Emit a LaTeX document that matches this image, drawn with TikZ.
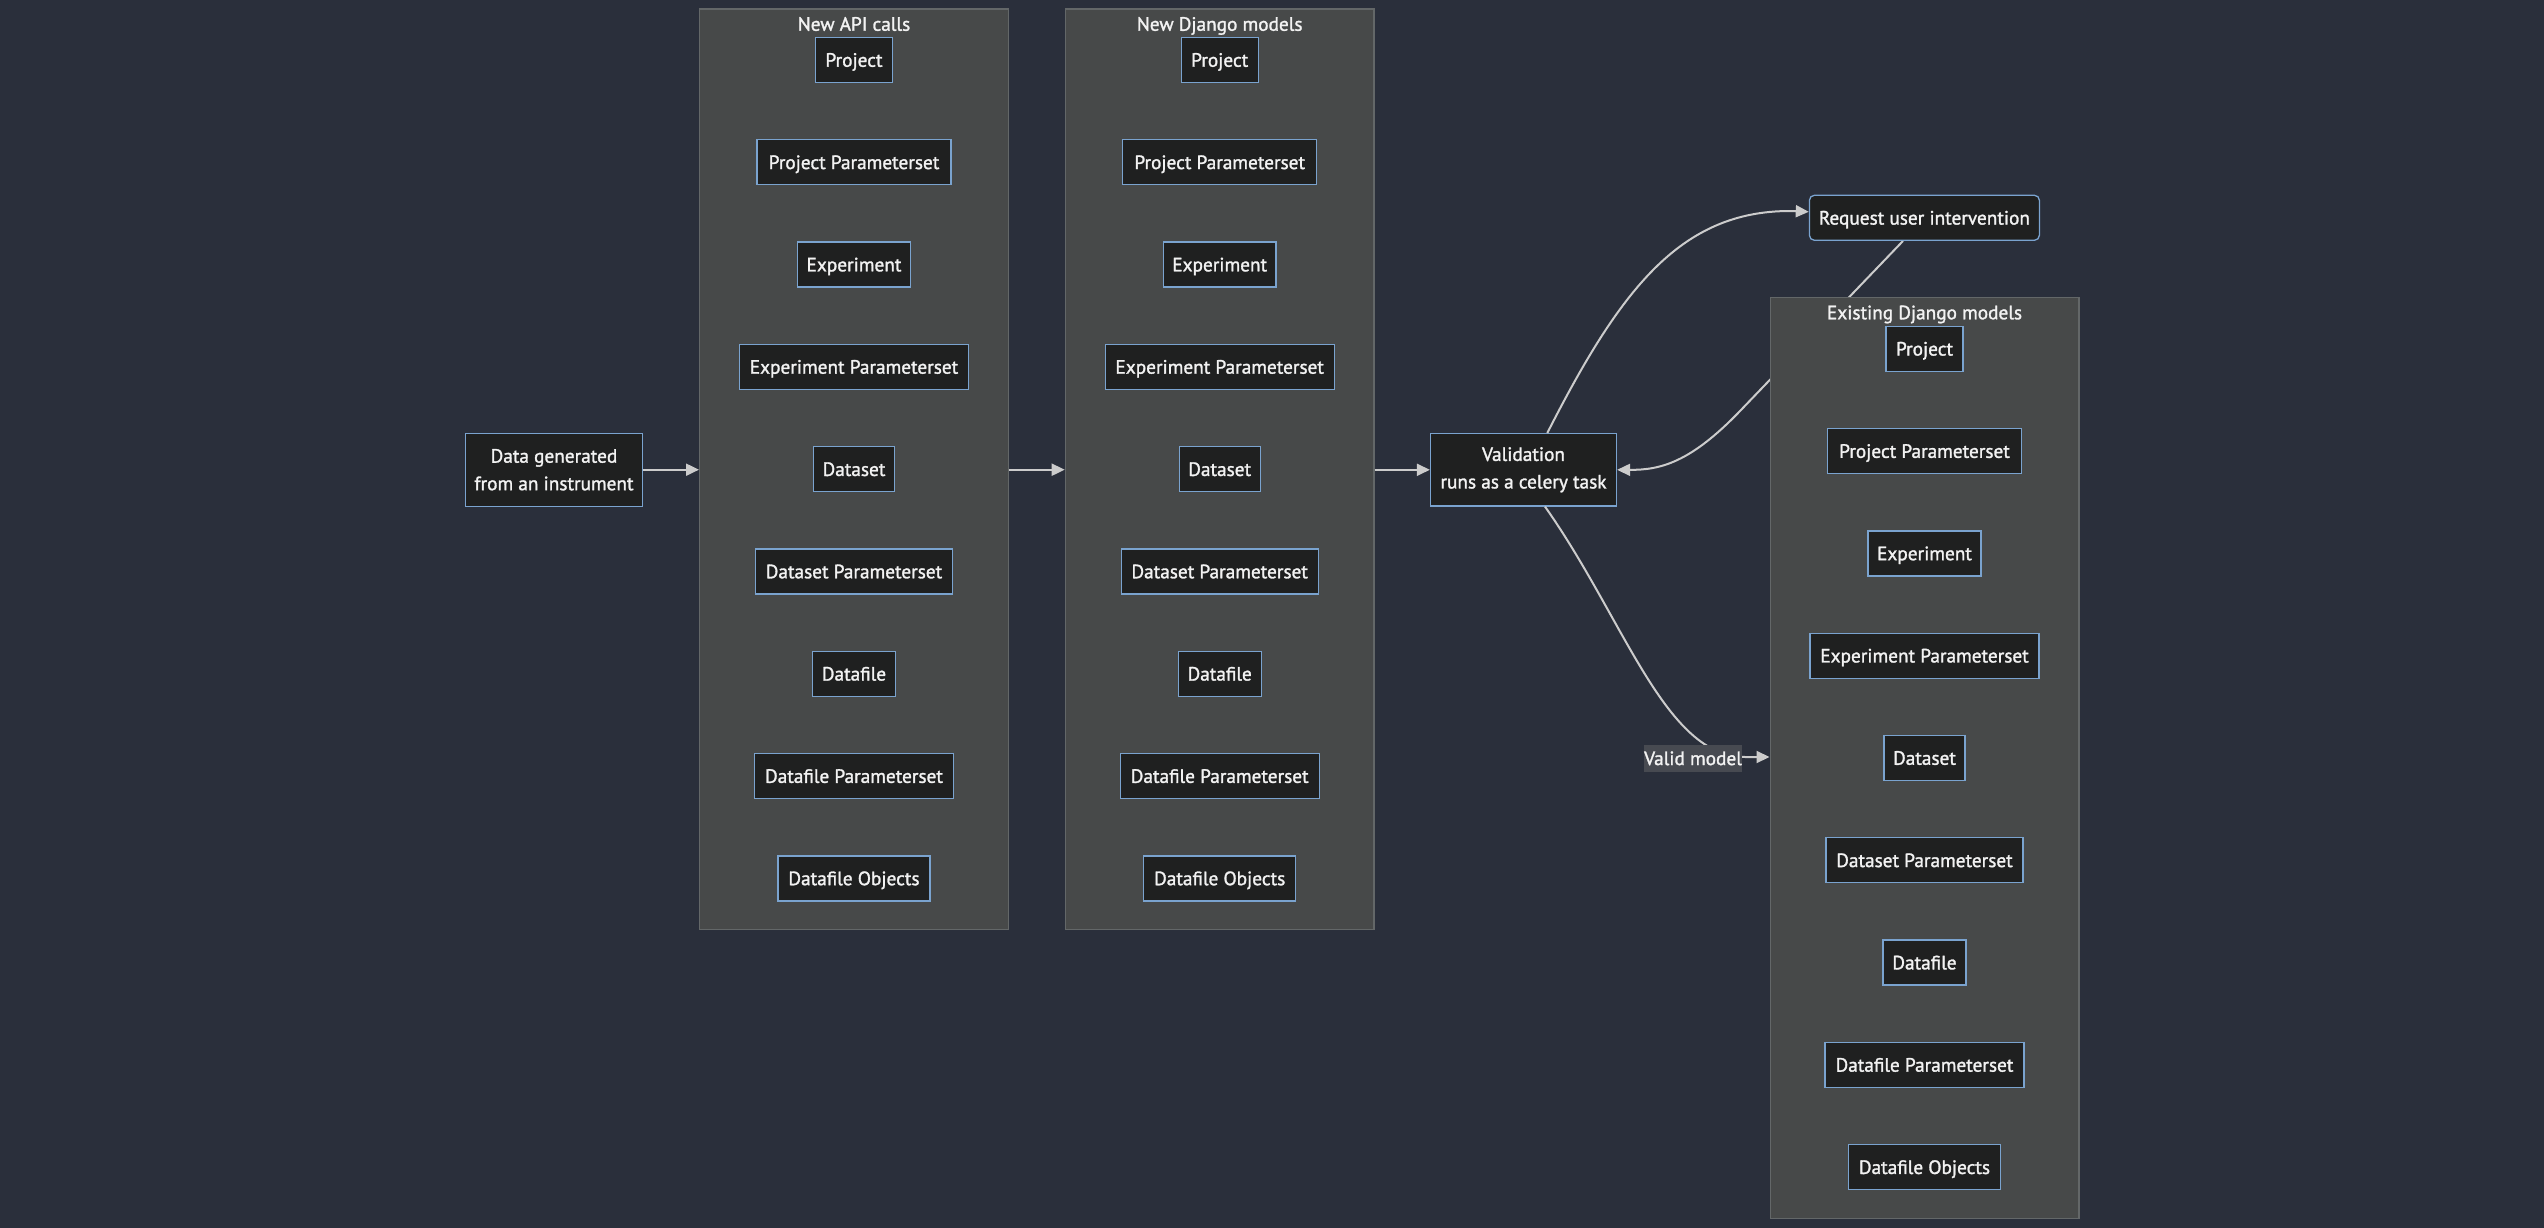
\documentclass[tikz,border=0pt]{standalone}
\usepackage{fontspec}
\setmainfont{PT Sans}[FakeBold=1.5]
\usetikzlibrary{arrows.meta,calc}
\definecolor{bgc}{HTML}{2A2F3B}
\definecolor{clf}{HTML}{474949}
\definecolor{clb}{HTML}{636768}
\definecolor{ndf}{HTML}{1F2020}
\definecolor{ndb}{HTML}{7AA3CF}
\definecolor{edc}{HTML}{CCCCCC}
\definecolor{txc}{HTML}{F2F2F2}
\definecolor{lbf}{HTML}{474A51}
\pgfdeclarelayer{bgl}
\pgfdeclarelayer{hid}
\pgfdeclarelayer{clu}
\pgfsetlayers{bgl,hid,clu,main}
\tikzset{
  every node/.style={font=\fontsize{19.3}{27.5}\selectfont, text=txc},
  nd/.style={draw=ndb, fill=ndf, line width=1.3pt, minimum height=45pt, inner xsep=9pt, inner ysep=0pt, align=center},
  one/.style={text height=13.5pt, text depth=0pt},
  clus/.style={draw=clb, fill=clf, line width=1.3pt, minimum width=308.7pt, minimum height=920.6pt, inner sep=0pt},
  ttl/.style={inner sep=0pt, text height=13.5pt, text depth=0pt},
  edge/.style={draw=edc, line width=2pt, -{Triangle[length=13pt,width=12pt]}},
  elab/.style={fill=lbf, inner xsep=0pt, inner ysep=6.5pt, text height=13.5pt, text depth=0pt}
}
\begin{document}
\begin{tikzpicture}[x=1pt,y=-1pt]
\begin{pgfonlayer}{bgl}
\fill[bgc] (0,0) rectangle (2544,1228);
\end{pgfonlayer}
\useasboundingbox (0,0) rectangle (2544,1228);

\begin{pgfonlayer}{clu}
\node[clus] (c1) at (854,469.3) {};
\node[clus] (c2) at (1219.7,469.3) {};
\node[clus] (c3) at (1924.5,758) {};
\node[ttl] (t1) at (854,24) {New API calls};
\node[ttl] (t2) at (1219.7,24) {New Django models};
\node[ttl] (t3) at (1924.5,312.5) {Existing Django models};
\end{pgfonlayer}

\foreach \n/\t/\w [count=\i from 0] in {
  proj/Project/77, projp/Project Parameterset/194, exp/Experiment/112.5,
  expp/Experiment Parameterset/229, ds/Dataset/81, dsp/Dataset Parameterset/197,
  df/Datafile/83, dfp/Datafile Parameterset/199, dfo/Datafile Objects/152} {
  \node[nd, one, minimum width=\w pt] (a\n) at (854,{60+102.3*\i}) {\t};
  \node[nd, one, minimum width=\w pt] (b\n) at (1219.7,{60+102.3*\i}) {\t};
  \node[nd, one, minimum width=\w pt] (e\n) at (1924.5,{348.8+102.3*\i}) {\t};
}

\node[nd, minimum width=177pt, minimum height=73pt] (data) at (554,469.7) {Data generated\\from an instrument};
\node[nd, minimum width=186pt, minimum height=72.3pt] (val) at (1523.5,469.8) {Validation\\runs as a celery task};
\node[nd, one, minimum width=230pt, rounded corners=5pt] (req) at (1924.4,217.8) {Request user intervention};

\draw[edge] (data.east) -- (data.east -| c1.west);
\draw[edge] (data.east -| c1.east) -- (data.east -| c2.west);
\draw[edge] (val.west -| c2.east) -- (val.west);

\draw[edge] ([xshift=23.8pt]val.north) .. controls (1620,290) and (1680,211) .. (1790,211) -- ([yshift=6pt]req.west);

\begin{pgfonlayer}{hid}
\draw[edge] ([xshift=-21.4pt]req.south) -- (1740,411) .. controls (1690,463) and (1660,470) .. (val.east);
\end{pgfonlayer}

\draw[edge] ([xshift=21.5pt]val.south) .. controls (1625,620) and (1665,757) .. (1745,757) -- (c3.west |- 0,757);
\node[elab] (vl) at (1693,758.3) {Valid model};
\end{tikzpicture}
\end{document}
